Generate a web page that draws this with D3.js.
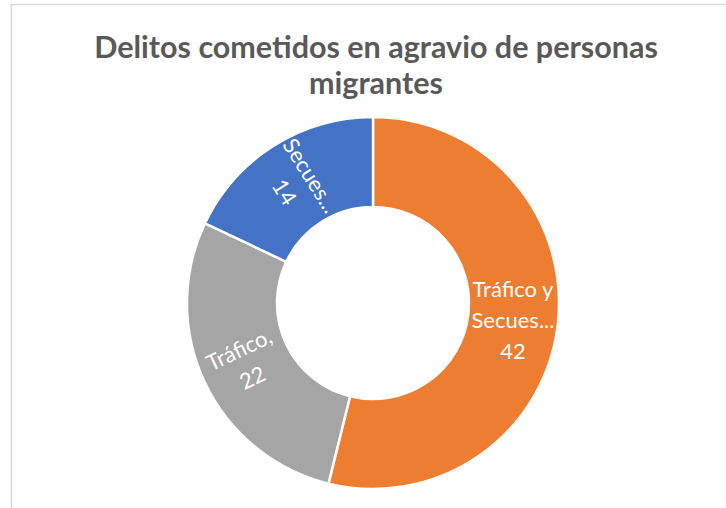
<!DOCTYPE html>
<html>
<head>
<meta charset="utf-8">
<script src="https://cdn.jsdelivr.net/npm/d3@7"></script>
<style>
  body { margin: 0; background: #fff; }
  svg { display: block; }
</style>
</head>
<body>
<div id="container"></div>
<script>
const width = 726, height = 508;

// data
const categories = ["Tráfico y Secuestro", "Tráfico", "Secuestro"];
const values = [42, 22, 14];
const labelLines = [["Tráfico y", "Secues...", "42"], ["Tráfico,", "22"], ["Secues...", "14"]];
const colors = ["#ED7D31", "#A5A5A5", "#4472C4"];
const titleLines = ["Delitos cometidos en agravio de personas", "migrantes"];

const cx = 373, cy = 303, outerR = 186, innerR = 96;

const svg = d3.select("#container").append("svg")
    .attr("width", width)
    .attr("height", height);

// chart frame, only top and left edges show
svg.append("rect")
    .attr("x", 11.5)
    .attr("y", 4.5)
    .attr("width", 740)
    .attr("height", 540)
    .attr("fill", "none")
    .attr("stroke", "#d9d9d9")
    .attr("stroke-width", 1.5);

svg.append("text")
    .attr("x", 376)
    .attr("y", 58)
    .attr("text-anchor", "middle")
    .attr("font-family", "Lato, 'Open Sans', sans-serif")
    .attr("font-weight", "bold")
    .attr("font-size", 30.5)
    .attr("fill", "#595959")
    .selectAll("tspan")
    .data(titleLines)
    .join("tspan")
    .attr("x", 376)
    .attr("dy", (d, i) => i === 0 ? 0 : 36)
    .text(d => d);

const pie = d3.pie().sort(null).value(d => d);
const arcs = pie(values);
const arc = d3.arc().innerRadius(innerR).outerRadius(outerR);

const g = svg.append("g").attr("transform", `translate(${cx},${cy})`);

g.selectAll("path")
    .data(arcs)
    .join("path")
    .attr("d", arc)
    .attr("fill", (d, i) => colors[i])
    .attr("stroke", "#fff")
    .attr("stroke-width", 2.5);

// labels: radial rotation except the right slice which stays flat
const labels = g.selectAll("g.lbl")
    .data(arcs)
    .join("g")
    .attr("class", "lbl")
    .attr("transform", (d, i) => {
        const [x, y] = arc.centroid(d);
        const mid = (d.startAngle + d.endAngle) / 2 * 180 / Math.PI;
        let rot = mid - 90;
        if (rot > 90) rot -= 180;
        if (i === 0) rot = 0;
        return `translate(${x},${y}) rotate(${rot})`;
    });

labels.each(function(d, i) {
    const lines = labelLines[i];
    const lh = 31;
    const t = d3.select(this).append("text")
        .attr("text-anchor", "middle")
        .attr("font-family", "Lato, 'Open Sans', sans-serif")
        .attr("font-size", 22)
        .attr("fill", "#fff");
    t.selectAll("tspan")
        .data(lines)
        .join("tspan")
        .attr("x", 0)
        .attr("y", (l, j) => (j - (lines.length - 1) / 2) * lh + 8)
        .text(l => l);
});
</script>
</body>
</html>
